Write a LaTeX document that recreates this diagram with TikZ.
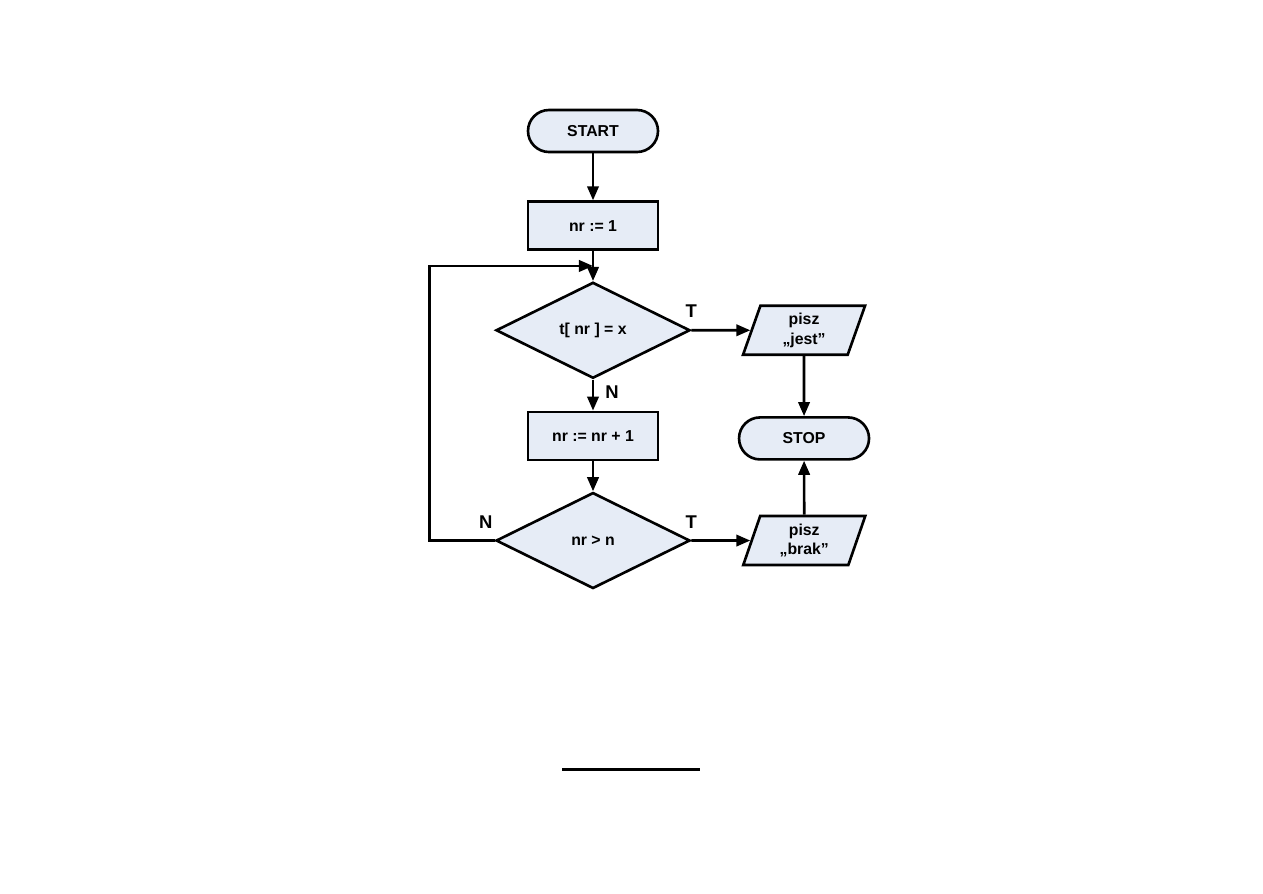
\documentclass[tikz,border=0pt]{standalone}
\usepackage{fontspec}
\setmainfont{Liberation Sans}
\usetikzlibrary{arrows.meta,positioning,shapes.geometric,calc}
\definecolor{boxfill}{RGB}{230,236,246}

\begin{document}
\begin{tikzpicture}[->,>={Triangle[length=8pt,width=6.5pt]},line width=1.5pt,
  font=\fontsize{9}{11}\selectfont\bfseries,
  terminal/.style={rectangle,draw,fill=boxfill,rounded corners=0.42cm,
                   minimum width=2.6cm,minimum height=0.84cm,inner sep=0pt},
  process/.style={rectangle,draw,fill=boxfill,
                  minimum width=2.6cm,minimum height=0.96cm,inner sep=0pt},
  decision/.style={diamond,draw,fill=boxfill,
                   minimum width=3.88cm,minimum height=1.92cm,inner sep=0pt},
  io-box/.style={trapezium,trapezium left angle=63,trapezium right angle=117,
                 trapezium stretches body=true,
                 draw,fill=boxfill,minimum width=2.44cm,minimum height=0.98cm,
                 inner sep=0pt,align=center},
  branch/.style={inner sep=0pt,font=\fontsize{10.5}{12}\selectfont\bfseries}]
  \useasboundingbox (0,0) rectangle (25.26,-17.86);

    \node[terminal] (start) at (11.86,-2.62) {START};
    \node[process] (init) [below=0.94cm of start] {nr := 1};
    \node[decision] (check) [below=0.6cm of init] {t[ nr ] = x};
    \node[process] (incr) [below=0.62cm of check] {nr := nr + 1};
    \node[decision] (limit) [below=0.6cm of incr] {nr > n};
    \node[io-box] (found) [right=1.18cm of check] {pisz\\„jest”};
    \node[terminal] (stop) [below=1.2cm of found] {STOP};
    \node[io-box] (missing) [right=1.18cm of limit] {pisz\\„brak”};
    % T / N labels
    \node[branch] (t-check) [above=0.22cm of check.east] {T};
    \node[branch] (n-check) [below right=0.1cm and 0.22cm of check.south] {N};
    \node[branch] (n-limit) [above left=0.22cm and 0.02cm of limit.west] {N};
    \node[branch] (t-limit) [above=0.22cm of limit.east] {T};
    \coordinate (join) at ($(init.south)!0.5!(check.north)$);
    \path (start) edge (init)
     (init) edge (check)
     (check) edge (found)
     (check) edge (incr)
     (incr) edge (limit)
     (limit) edge (missing)
     (found) edge (stop)
     (missing) edge (stop);
    \draw (limit.west) -- ++(-1.3,0) |- (join);
    %\node (caption) [below=of limit] {};
    \coordinate (rule-l) at (11.24,-15.38);
    \coordinate (rule-r) at (14.0,-15.38);
    \draw[-,line width=1.7pt] (rule-l) -- (rule-r);

\end{tikzpicture}
\end{document}
